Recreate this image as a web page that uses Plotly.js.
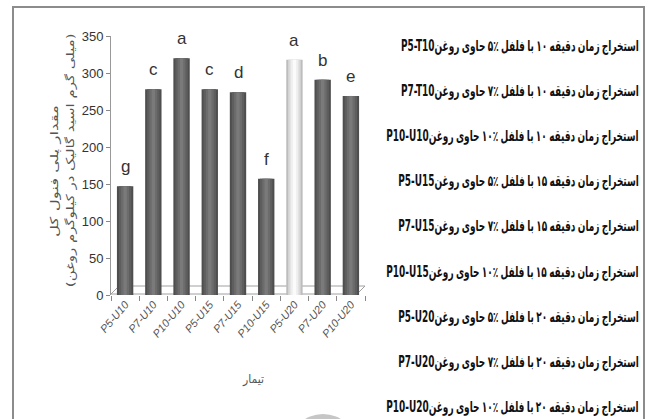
<!DOCTYPE html>
<html><head><meta charset="utf-8">
<script src="https://cdn.plot.ly/plotly-3.0.1.min.js"></script>
<style>body{margin:0;background:#fff}#c{width:648px;height:419px}</style>
</head><body><div id="c"></div>
<script>
const categories = ["P5-U10","P7-U10","P10-U10","P5-U15","P7-U15","P10-U15","P5-U20","P7-U20","P10-U20"];
const values = [147, 278, 320, 278, 274, 157, 318, 291, 269];
const letters = ["g","c","a","c","d","f","a","b","e"];
const legendCodes = ["P5-T10","P7-T10","P10-U10","P5-U15","P7-U15","P10-U15","P5-U20","P7-U20","P10-U20"];
const legendPercent = ["۵٪","۷٪","۱۰٪","۵٪","۷٪","۱۰٪","۵٪","۷٪","۱۰٪"];
const legendMinutes = ["۱۰","۱۰","۱۰","۱۵","۱۵","۱۵","۲۰","۲۰","۲۰"];
const yTicks = [0,50,100,150,200,250,300,350];
const yTitleLines = ["مقدار پلی فنول کل", "(میلی گرم اسید گالیک در کیلوگرم روغن)"];
const xTitle = "تیمار";
const highlightIndex = 6;

const L = 111, T = 36, W = 254, H = 259; // plot area in px
const px = x => (x - L) / W;
const py = y => (T + H - y) / H;

const layers = [
  {w:0.58, dark:"#4e4e4e", light:"#bdbdbd"},
  {w:0.44, dark:"#5e5e5e", light:"#dadada"},
  {w:0.28, dark:"#6c6c6c", light:"#eeeeee"},
  {w:0.12, dark:"#7a7a7a", light:"#fbfbfb"}
];
const traces = layers.map(l => ({
  type:"bar", x:categories, y:values, width:l.w,
  marker:{color:categories.map((c,i)=> i===highlightIndex ? l.light : l.dark), line:{width:0}},
  hoverinfo:"skip", showlegend:false
}));

const legendTokens = legendCodes.map((code,i)=>[code,"روغن","حاوی",legendPercent[i],"فلفل","با",legendMinutes[i],"دقیقه","زمان","استخراج"]);

const annotations = [];
categories.forEach((c,i)=>{
  annotations.push({x:c, y:values[i], xref:"x", yref:"y", text:letters[i], showarrow:false,
    yanchor:"bottom", yshift:8, font:{family:"Liberation Sans Narrow, Arial Narrow, sans-serif", size:17, color:"#333"}});
});
const legendStart = annotations.length;
legendTokens.forEach((toks,i)=>{
  annotations.push({x:px(641), y:py(46 + 45.1*i), xref:"paper", yref:"paper", xanchor:"right", yanchor:"middle",
    showarrow:false, align:"right",
    text: toks.join(" "),
    font:{family:"Liberation Sans Narrow, DejaVu Sans Condensed, sans-serif", size:15, color:"#111", weight:"bold"}});
});
const yTitleStart = annotations.length;
annotations.push({x:px(46), y:py(171), xref:"paper", yref:"paper", textangle:-90, showarrow:false,
  text:yTitleLines[0], font:{family:"DejaVu Sans Condensed, DejaVu Sans, sans-serif", size:11, color:"#555"}});
annotations.push({x:px(62), y:py(160), xref:"paper", yref:"paper", textangle:-90, showarrow:false,
  text:yTitleLines[1], font:{family:"DejaVu Sans Condensed, DejaVu Sans, sans-serif", size:11, color:"#555"}});
annotations.push({x:px(253), y:py(389), xref:"paper", yref:"paper", showarrow:false,
  text:xTitle, font:{family:"DejaVu Sans Condensed, DejaVu Sans, sans-serif", size:12, color:"#555"}});

const frame = {color:"#8c8c8c", width:2};
const shapes = [
  {type:"rect", xref:"paper", yref:"paper", x0:px(13), x1:px(644), y0:py(450), y1:py(7), line:frame, fillcolor:"rgba(0,0,0,0)", layer:"above"},
  {type:"circle", xref:"paper", yref:"paper", x0:px(289), x1:px(357), y0:py(482), y1:py(414), fillcolor:"#c6c6c6", line:{width:0}, layer:"above"},
  {type:"path", xref:"paper", yref:"paper", layer:"below",
   path:`M ${px(111)} ${py(294)} L ${px(357)} ${py(294)} L ${px(365)} ${py(286)} L ${px(119)} ${py(286)} Z`,
   fillcolor:"#ffffff", line:{color:"#a0a0a0", width:1}}
];

const layout = {
  width:648, height:419,
  margin:{l:L, r:648-L-W, t:T, b:419-T-H},
  paper_bgcolor:"#fff", plot_bgcolor:"rgba(0,0,0,0)",
  barmode:"overlay",
  xaxis:{type:"category", tickangle:-50, tickson:"boundaries", ticks:"outside", ticklen:5, tickcolor:"#888",
    showline:false, showgrid:false, zeroline:false,
    tickfont:{family:"Liberation Sans Narrow, Arial Narrow, sans-serif", size:11, color:"#555", style:"italic"}},
  yaxis:{range:[0,350], tickvals:yTicks, ticks:"outside", ticklen:4, tickcolor:"#888",
    showline:true, linecolor:"#999", showgrid:false, zeroline:false,
    tickfont:{family:"Liberation Sans Narrow, Arial Narrow, sans-serif", size:13, color:"#333"}},
  annotations, shapes, showlegend:false
};

const SVGNS = "http://www.w3.org/2000/svg";
function annText(idx){ return document.querySelector(`#c g.annotation[data-index="${idx}"] text.annotation-text`); }

// lay tokens out as separate text elements, left to right as in the reference
function layoutTokens(idx, toks){
  const t = annText(idx); if(!t) return null;
  const b1 = t.getBBox();
  const right = b1.x + b1.width;
  const y = t.getAttribute("y");
  const cs = getComputedStyle(t);
  const g = document.createElementNS(SVGNS,"g");
  t.parentNode.appendChild(g);
  const els = toks.map(tok => {
    const e = document.createElementNS(SVGNS,"text");
    e.textContent = tok;
    e.setAttribute("y", y);
    e.setAttribute("text-anchor","start");
    e.style.fontFamily = cs.fontFamily; e.style.fontSize = cs.fontSize;
    e.style.fontWeight = cs.fontWeight; e.style.fill = cs.fill;
    g.appendChild(e); return e;
  });
  const widths = els.map(e => e.getComputedTextLength());
  const gap = 3.5;
  const total = widths.reduce((a,b)=>a+b,0) + gap*(toks.length-2);
  let x = right - total;
  els.forEach((e,k)=>{ e.setAttribute("x", x); x += widths[k] + (k===0 ? 0 : gap); });
  t.parentNode.removeChild(t);
  return {g, right, total};
}
function squeeze(el, anchorX, s){
  el.setAttribute("transform", `translate(${anchorX},0) scale(${s},1) translate(${-anchorX},0)`);
}

Plotly.newPlot("c", traces, layout, {staticPlot:true}).then(()=>{
  const res = legendTokens.map((toks,i)=>layoutTokens(legendStart+i, toks));
  if(res[0]){
    const s = 238 / res[0].total;
    res.forEach(r => { if(r) squeeze(r.g, r.right, s); });
  }
  [[yTitleStart,132],[yTitleStart+1,254]].forEach(([idx,w])=>{
    const t = annText(idx); if(!t) return;
    const b = t.getBBox();
    squeeze(t, b.x + b.width/2, w / b.width);
  });
});
</script></body></html>
